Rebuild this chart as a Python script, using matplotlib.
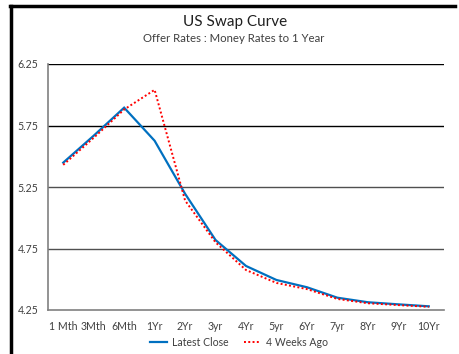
import matplotlib
matplotlib.use("Agg")
import matplotlib.pyplot as plt
from matplotlib.lines import Line2D

plt.rcParams['font.family'] = ['Lato', 'DejaVu Sans']

categories = ["1 Mth", "3Mth", "6Mth", "1Yr", "2Yr", "3yr", "4Yr", "5yr", "6Yr", "7yr", "8Yr", "9Yr", "10Yr"]
latest_close = [5.448, 5.667, 5.895, 5.626, 5.195, 4.819, 4.608, 4.494, 4.435, 4.350, 4.313, 4.296, 4.280]
weeks4_ago = [5.430, 5.650, 5.880, 6.040, 5.140, 4.800, 4.575, 4.470, 4.420, 4.340, 4.305, 4.290, 4.276]
yticks = [4.25, 4.75, 5.25, 5.75, 6.25]

fig = plt.figure(figsize=(4.6, 3.54), dpi=100)
ax = fig.add_axes([48/460, 1-310/354, (444-48)/460, (310-64)/354])

x = list(range(len(categories)))
ax.plot(x, latest_close, color='#0070C0', lw=1.6, label='Latest Close', solid_joinstyle='miter')
ax.plot(x, weeks4_ago, color='#FF0000', lw=1.4, ls=(0, (1, 1.2)), label='4 Weeks Ago')

ax.set_xlim(-0.5, len(categories)-0.5)
ax.set_ylim(4.25, 6.25)
ax.set_yticks(yticks)
ax.set_yticklabels([f"{v:.2f}" for v in yticks])
ax.set_xticks(x)
ax.set_xticklabels(categories)
ax.tick_params(axis='both', length=0, labelsize=7.6, colors='#404040')
ax.tick_params(axis='y', pad=7)
ax.tick_params(axis='x', pad=8)

for v in yticks[1:]:
    c = '#000000' if v >= 5.75 else '#505050'
    ax.axhline(v, color=c, lw=1.0, zorder=0)

for s in ['top', 'right']:
    ax.spines[s].set_visible(False)
for s in ['left', 'bottom']:
    ax.spines[s].set_color('#808080')
    ax.spines[s].set_linewidth(1.2)

fig.text(0.512, 1-22/354, "US Swap Curve", ha='center', va='center', fontsize=11, color='#202020')
fig.text(0.508, 1-39/354, "Offer Rates : Money Rates to 1 Year", ha='center', va='center', fontsize=8.2, color='#404040')

leg = fig.legend(loc='center', bbox_to_anchor=(239/460, 1-342/354), ncol=2, frameon=False,
                 fontsize=7.6, handlelength=1.6, columnspacing=1.5, handletextpad=0.47)
for t in leg.get_texts():
    t.set_color('#404040')

# outer border (left and top)
fig.add_artist(Line2D([11/460, 11/460], [0, 1-6/354], transform=fig.transFigure, color='black', lw=2.5))
fig.add_artist(Line2D([10/460, 455/460], [1-6/354, 1-6/354], transform=fig.transFigure, color='black', lw=2.5))

fig.savefig("out.png", dpi=100)
